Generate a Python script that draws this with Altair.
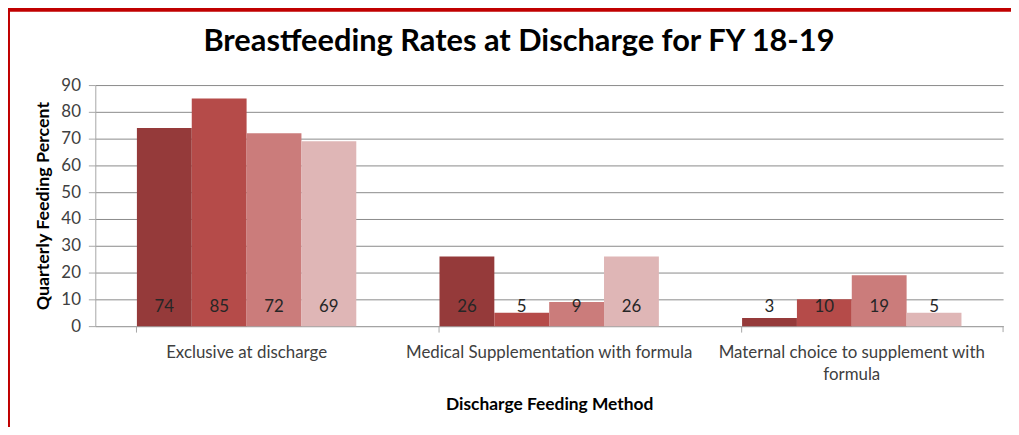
import altair as alt
import pandas as pd

title_text = "Breastfeeding Rates at Discharge for FY 18-19"
categories = [
    "Exclusive at discharge",
    "Medical Supplementation with formula",
    "Maternal choice to supplement with formula",
]
quarters = ["Q1", "Q2", "Q3", "Q4"]
q1 = [74, 26, 3]
q2 = [85, 5, 10]
q3 = [72, 9, 19]
q4 = [69, 26, 5]
colors = ["#953A3A", "#B54B49", "#CB7C7B", "#DFB6B6"]
y_ticks = [0, 10, 20, 30, 40, 50, 60, 70, 80, 90]

rows = []
for qi, series in zip(quarters, [q1, q2, q3, q4]):
    for cat, v in zip(categories, series):
        rows.append({"method": cat, "quarter": qi, "value": v})
df = pd.DataFrame(rows)

FONT = "Lato"

x_enc = alt.X(
    "method:N",
    sort=categories,
    scale=alt.Scale(paddingInner=0.275, paddingOuter=0.1375),
    axis=alt.Axis(
        title="Discharge Feeding Method",
        titleFontSize=17.5,
        labelAngle=0,
        bandPosition=0,
        labelExpr="datum.label == 'Maternal choice to supplement with formula' ? ['Maternal choice to supplement with', 'formula'] : datum.label",
        labelLineHeight=22,
        labelPadding=13,
        labelLimit=400,
        labelFontSize=17,
        tickSize=6,
        titlePadding=13,
    ),
)
xoff = alt.XOffset("quarter:N", sort=quarters, scale=alt.Scale(paddingInner=0, paddingOuter=0))

y_scale = alt.Scale(domain=[0, 90])
y_axis = alt.Axis(
    title="Quarterly Feeding Percent",
    titleFontSize=18,
    values=y_ticks,
    tickCount=10,
    labelOverlap=False,
    labelFontSize=17,
    tickSize=7,
    labelPadding=8,
    titlePadding=8,
    grid=True,
)

base = alt.Chart(df).encode(x=x_enc, xOffset=xoff)

bars = base.mark_bar().encode(
    y=alt.Y("value:Q", scale=y_scale, axis=y_axis),
    color=alt.Color("quarter:N", scale=alt.Scale(domain=quarters, range=colors), legend=None),
)

labels = base.mark_text(
    font=FONT, fontSize=17, color="#262626", baseline="middle", dy=-19
).encode(y=alt.YDatum(0, scale=y_scale, axis=y_axis), text="value:Q")

one = alt.Data(values=[{}])
title_mark = alt.Chart(one).mark_text(
    text=title_text,
    font=FONT,
    fontSize=31,
    fontWeight="bold",
    color="black",
    align="center",
    baseline="alphabetic",
).encode(x=alt.value(427), y=alt.value(-34))

border = alt.Chart(one).mark_rule(color="#C00000", strokeWidth=4, clip=False)
left_border = border.encode(x=alt.value(-88), y=alt.value(-80), y2=alt.value(400))
top_border = border.encode(x=alt.value(-90), x2=alt.value(1000), y=alt.value(-76))

end_tick = alt.Chart(one).mark_rule(color="#A6A6A6", strokeWidth=1, clip=False).encode(
    x=alt.value(915), y=alt.value(243), y2=alt.value(249)
)

chart = (
    alt.layer(bars, labels, title_mark, left_border, top_border, end_tick)
    .properties(
        width=915,
        height=243,
        autosize=alt.AutoSizeParams(type="none"),
        padding={"left": 88, "top": 76, "right": 8, "bottom": 100},
    )
    .configure_view(stroke=None)
    .configure_axis(
        labelFont=FONT,
        labelColor="#404040",
        titleFont=FONT,
        titleFontWeight="bold",
        titleColor="black",
        domainColor="#A6A6A6",
        tickColor="#A6A6A6",
        gridColor="#8A8A8A",
    )
    .configure_axisX(grid=False)
)

chart.save("out.html", embed_options={"renderer": "svg", "actions": False})
